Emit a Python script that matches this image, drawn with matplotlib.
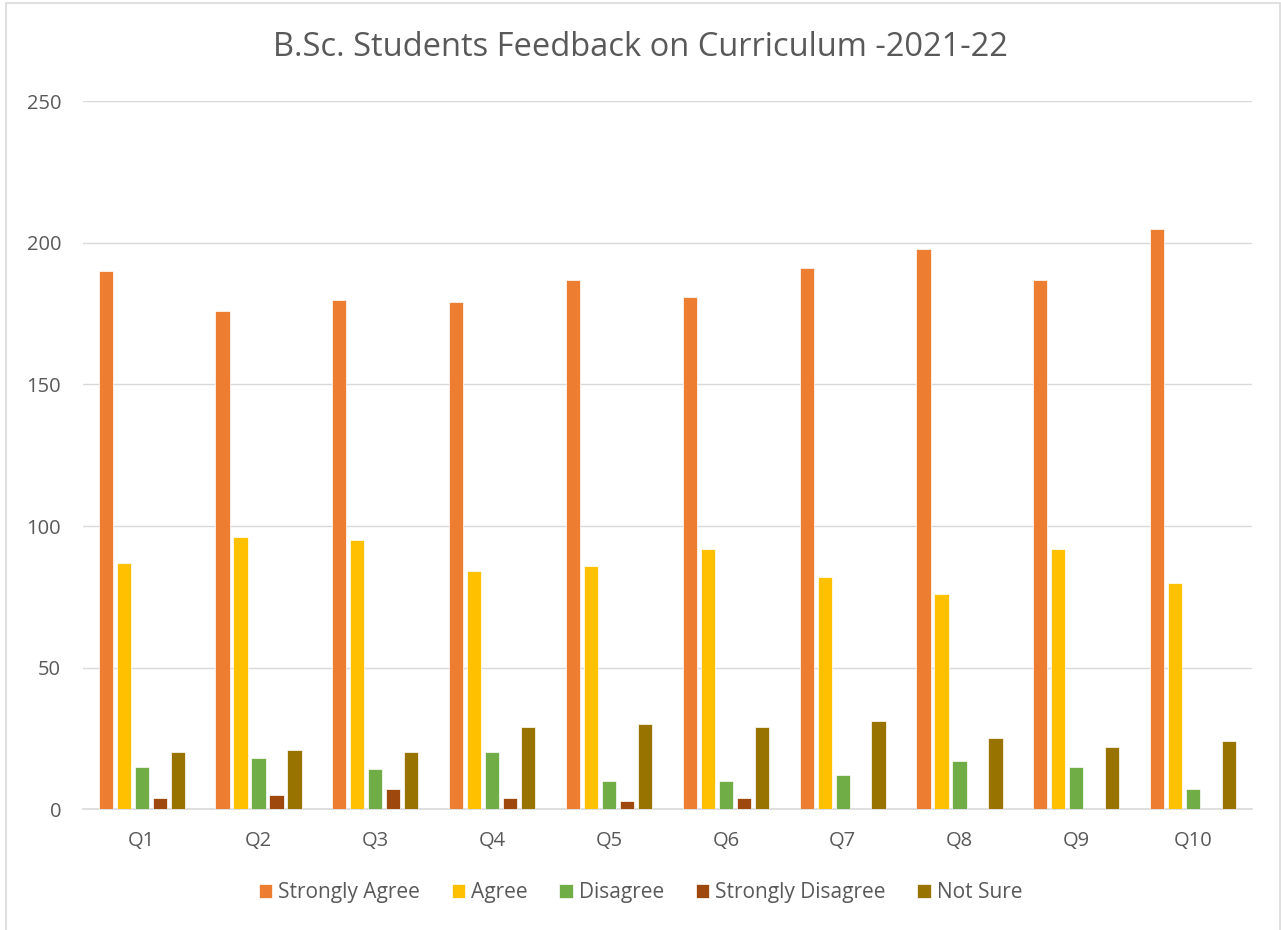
import numpy as np
import matplotlib
matplotlib.use("Agg")
import matplotlib.pyplot as plt
from matplotlib.patches import Rectangle

questions = ["Q1", "Q2", "Q3", "Q4", "Q5", "Q6", "Q7", "Q8", "Q9", "Q10"]
strongly_agree = [190, 176, 180, 179, 187, 181, 191, 198, 187, 205]
agree = [87, 96, 95, 84, 86, 92, 82, 76, 92, 80]
disagree = [15, 18, 14, 20, 10, 10, 12, 17, 15, 7]
strongly_disagree = [4, 5, 7, 4, 3, 4, 0, 0, 0, 0]
not_sure = [20, 21, 20, 29, 30, 29, 31, 25, 22, 24]

series_names = ["Strongly Agree", "Agree", "Disagree", "Strongly Disagree", "Not Sure"]
series_values = [strongly_agree, agree, disagree, strongly_disagree, not_sure]
colors = ["#ED7D31", "#FFC000", "#70AD47", "#9E480E", "#997300"]

plt.rcParams["font.family"] = ["Open Sans", "DejaVu Sans"]
text_gray = "#595959"

fig = plt.figure(figsize=(12.81, 9.3), dpi=100)
ax = fig.add_axes([0.065, 0.130, 0.912, 0.761])

x = np.arange(len(questions))
step = 0.154
bar_w = 0.122
for i, (name, vals, c) in enumerate(zip(series_names, series_values, colors)):
    ax.bar(x + (i - 2) * step, vals, width=bar_w, color=c, edgecolor="white",
           linewidth=0.5, label=name, zorder=3)

ax.set_ylim(0, 250)
ax.set_xlim(-0.5, len(questions) - 0.5)
ax.set_yticks(range(0, 251, 50))
ax.set_xticks(x)
ax.set_xticklabels(questions)
ax.yaxis.grid(True, color="#d9d9d9", linewidth=1, zorder=0)
for s in ["top", "right", "left"]:
    ax.spines[s].set_visible(False)
ax.spines["bottom"].set_color("#d9d9d9")
ax.spines["bottom"].set_linewidth(1.2)
ax.tick_params(axis="both", length=0, colors=text_gray, labelsize=14.5)
ax.tick_params(axis="x", pad=16)
ax.tick_params(axis="y", pad=16)

fig.text(0.5, 0.949, "B.Sc. Students Feedback on Curriculum -2021-22", ha="center",
         va="center", fontsize=23.5, color=text_gray)

leg = fig.legend(loc="center", bbox_to_anchor=(0.5, 0.040), ncol=5, frameon=False,
                 fontsize=15, handlelength=0.65, handleheight=0.65, handletextpad=0.3,
                 columnspacing=1.5)
for t in leg.get_texts():
    t.set_color(text_gray)

# chart-area border like the Excel frame
fig.patches.append(Rectangle((6 / 1281, -0.01), 1274 / 1281, 1 - 3 / 930 + 0.01,
                             transform=fig.transFigure, fill=False,
                             edgecolor="#d9d9d9", linewidth=1.2))

fig.savefig("out.png", dpi=100)
